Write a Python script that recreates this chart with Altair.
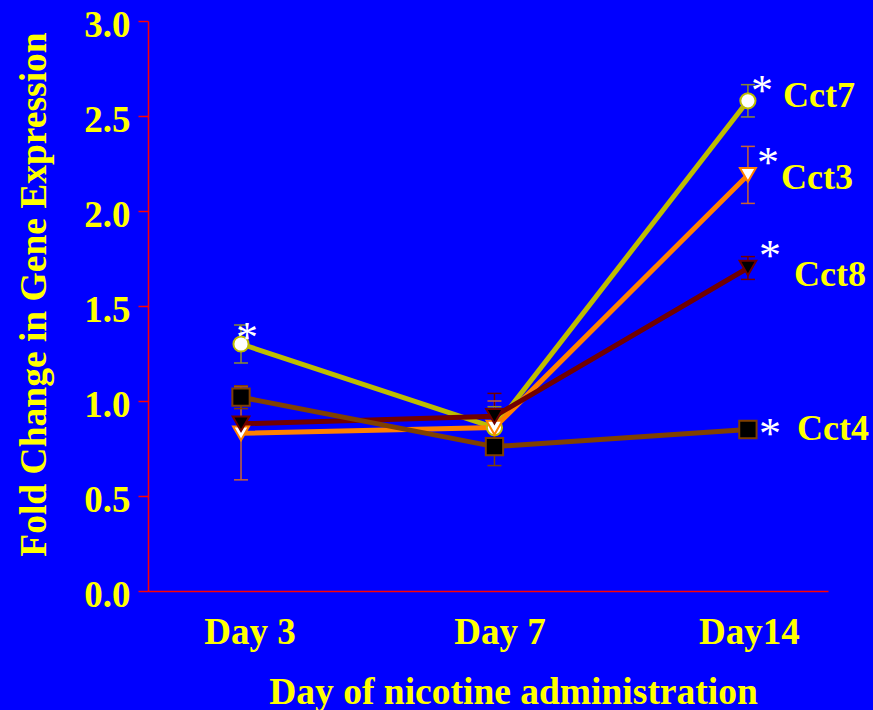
import altair as alt
import pandas as pd

# ---- data ----
days = ["Day 3", "Day 7", "Day14"]
genes = ["Cct7", "Cct3", "Cct8", "Cct4"]
cct7_mean = [1.30, 0.86, 2.58]
cct7_err = [0.10, 0.11, 0.085]
cct3_mean = [0.83, 0.86, 2.19]
cct3_err = [0.245, 0.14, 0.15]
cct8_mean = [0.88, 0.92, 1.70]
cct8_err = [0.03, 0.12, 0.06]
cct4_mean = [1.02, 0.76, 0.85]
cct4_err = [0.06, 0.10, 0.03]

means = {"Cct7": cct7_mean, "Cct3": cct3_mean, "Cct8": cct8_mean, "Cct4": cct4_mean}
errs = {"Cct7": cct7_err, "Cct3": cct3_err, "Cct8": cct8_err, "Cct4": cct4_err}

line_colors = ["#BDBD00", "#FF8000", "#700000", "#804000"]
err_colors = ["#8C8C30", "#C86432", "#700000", "#804000"]
fills = ["#FFFFFF", "#FFFFFF", "#000000", "#000000"]
shapes = ["circle", "triangle-down", "triangle-down", "square"]

rows = []
for g in genes:
    for i, d in enumerate(days):
        m = means[g][i]
        e = errs[g][i]
        rows.append({"gene": g, "day": d, "x": i, "y": m, "lo": m - e, "hi": m + e})
df = pd.DataFrame(rows)

FONT = "Liberation Serif"
YEL = "#FFFF00"

xscale = alt.Scale(domain=[-0.367, 2.316], nice=False, zero=False)
yscale = alt.Scale(domain=[0, 3], nice=False)

x_enc = alt.X(
    "x:Q", scale=xscale,
    axis=alt.Axis(
        values=[0, 1, 2],
        labelExpr="['Day 3','Day 7','Day14'][datum.value]",
        title="Day of nicotine administration",
        titleX=365, titleY=112, titleAlign="center", titleBaseline="alphabetic",
        titleAngle=0,
        ticks=False, tickSize=0, labelPadding=52, labelBaseline="alphabetic",
        labelOffset={"condition": [{"test": "datum.value == 0", "value": 8.5},
                                   {"test": "datum.value == 1", "value": 5}],
                     "value": 1},
        grid=False, labelFlush=False,
    ),
)
y_enc = alt.Y(
    "y:Q", scale=yscale,
    axis=alt.Axis(
        values=[0, 0.5, 1.0, 1.5, 2.0, 2.5, 3.0], format=".1f",
        title="Fold Change in Gene Expression",
        titleX=-103, titleY=273, titleAngle=270, titleAlign="center",
        titleBaseline="alphabetic",
        tickSize=10, labelPadding=8, labelBaseline="alphabetic", labelOffset=15,
        grid=False, labelFlush=False,
    ),
)

color_scale = alt.Scale(domain=genes, range=line_colors)

base = alt.Chart(df)

lines = base.mark_line(strokeWidth=5).encode(
    x=x_enc, y=y_enc,
    color=alt.Color("gene:N", scale=color_scale, legend=None),
    detail="gene:N",
)

err_scale = alt.Scale(domain=genes, range=err_colors)
bars = base.mark_rule(strokeWidth=1.5).encode(
    x="x:Q", y="lo:Q", y2="hi:Q",
    color=alt.Color("gene:N", scale=err_scale, legend=None),
)
cap_lo = base.mark_tick(orient="horizontal", size=14, thickness=1.5, opacity=1).encode(
    x="x:Q", y="lo:Q",
    color=alt.Color("gene:N", scale=err_scale, legend=None),
)
cap_hi = base.mark_tick(orient="horizontal", size=14, thickness=1.5, opacity=1).encode(
    x="x:Q", y="hi:Q",
    color=alt.Color("gene:N", scale=err_scale, legend=None),
)

points = base.mark_point(filled=False, strokeWidth=2, opacity=1, fillOpacity=1).encode(
    x="x:Q", y="y:Q",
    shape=alt.Shape("gene:N", scale=alt.Scale(domain=genes, range=shapes), legend=None),
    fill=alt.Fill("gene:N", scale=alt.Scale(domain=genes, range=fills), legend=None),
    stroke=alt.Stroke("gene:N", scale=color_scale, legend=None),
    size=alt.Size("gene:N", scale=alt.Scale(domain=genes, range=[230, 300, 300, 220]), legend=None),
)

# gene labels at the Day14 end of each line
label_offsets = {"Cct7": (35, 6), "Cct3": (33, 14), "Cct8": (46, 18), "Cct4": (49, 10)}
labels = []
for g in genes:
    dx, dy = label_offsets[g]
    labels.append(
        alt.Chart(df[(df.gene == g) & (df.x == 2)]).mark_text(
            align="left", baseline="alphabetic", dx=dx, dy=dy,
            font=FONT, fontSize=36, fontWeight="bold", color=YEL,
        ).encode(x="x:Q", y="y:Q", text="gene:N")
    )

# significance asterisks
star_marks = [("Cct7", 0, 6, 8), ("Cct7", 2, 14, 4), ("Cct3", 2, 20, 2),
              ("Cct8", 2, 22, 2), ("Cct4", 2, 22, 18)]
stars = []
for g, xi, dx, dy in star_marks:
    stars.append(
        alt.Chart(df[(df.gene == g) & (df.x == xi)]).mark_text(
            align="center", baseline="alphabetic", dx=dx, dy=dy,
            font=FONT, fontSize=44, color="#FFFFFF", text="*",
        ).encode(x="x:Q", y="y:Q")
    )

chart = alt.layer(lines, bars, cap_lo, cap_hi, points, *labels, *stars).properties(
    width=680, height=570,
    background="#0000FF",
    padding={"left": 148, "top": 21, "right": 45, "bottom": 119},
    autosize=alt.AutoSizeParams(type="none"),
).configure_view(stroke=None).configure_axis(
    domainColor="#FF0000", domainWidth=1.5, tickColor="#FF0000", tickWidth=1.5,
    labelFont=FONT, labelFontSize=37, labelFontWeight="bold", labelColor=YEL,
    titleFont=FONT, titleFontSize=37.5, titleFontWeight="bold", titleColor=YEL,
).resolve_scale(color="independent")

chart.save("out.html", embed_options={"renderer": "svg", "actions": False})
